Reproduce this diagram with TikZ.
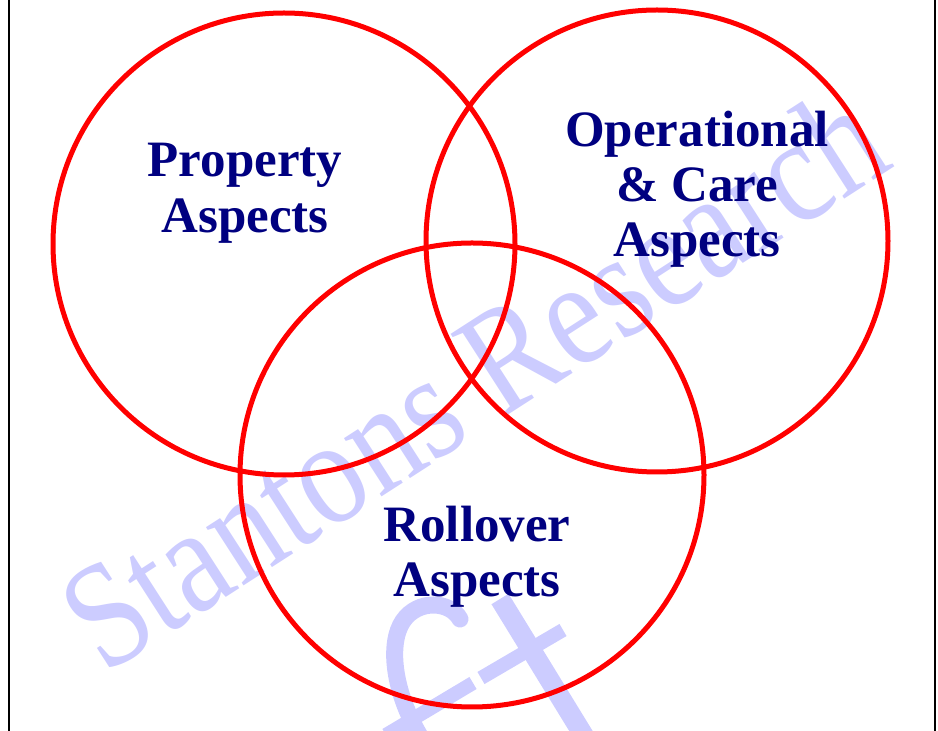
\documentclass[tikz,border=0pt]{standalone}
\usepackage{fontspec}
\setmainfont{Liberation Serif}
\usepackage{tikz}
\usetikzlibrary{positioning}
\definecolor{navy}{RGB}{0,0,128}
\definecolor{wmblue}{RGB}{204,204,255}
\tikzstyle{ring}=[draw=red,line width=5pt]
\tikzstyle{lbl}=[anchor=base,inner sep=0pt,text=navy,font=\bfseries\fontsize{51}{56}\selectfont]
\tikzstyle{wmark}=[wmblue,line width=17pt,line cap=round]
\begin{document}
\begin{tikzpicture}[x=1pt,y=1pt]
\useasboundingbox (0,0) rectangle (938,731);
\begin{scope}
\clip (0,0) rectangle (938,731);
% watermark
\node[anchor=base west,inner sep=0pt,rotate=32.8,yscale=1.18,text=wmblue,font=\fontsize{128}{128}\selectfont] (stamp) at (104,55) {Stantons Research};
\draw[wmark] (460,112) .. controls (450,130) and (418,132) .. (403,110) .. controls (388,88) and (393,40) .. (420,-5);
\draw[wmark,line width=20pt,line cap=butt] (500,132) -- (584,-5);
\draw[wmark,line width=14pt,line cap=butt] (386,-4) -- (473,48);
\draw[wmark,line width=14pt,line cap=butt] (481,53) -- (563,101);
\end{scope}
% frame
\draw[line width=2.5pt] (9,0) -- (9,731);
\draw[line width=2.5pt] (935,0) -- (935,731);
% circles
\foreach \n/\x/\y/\r in {prop/284/487/231,oper/657/490/231,roll/472/256/232}{
  \coordinate (\n) at (\x,\y);
  \draw[ring] (\n) circle (\r pt);
}
% labels
\node[lbl] (prop1) at (245,554) {Property};
\node[lbl] (prop2) at (245,498) {Aspects};
\node[lbl] (oper1) at (697,584) {Operational};
\node[lbl] (oper2) at (697,529) {\& Care};
\node[lbl] (oper3) at (697,474) {Aspects};
\node[lbl] (roll1) at (477,189) {Rollover};
\node[lbl] (roll2) at (477,134) {Aspects};
\end{tikzpicture}
\end{document}
